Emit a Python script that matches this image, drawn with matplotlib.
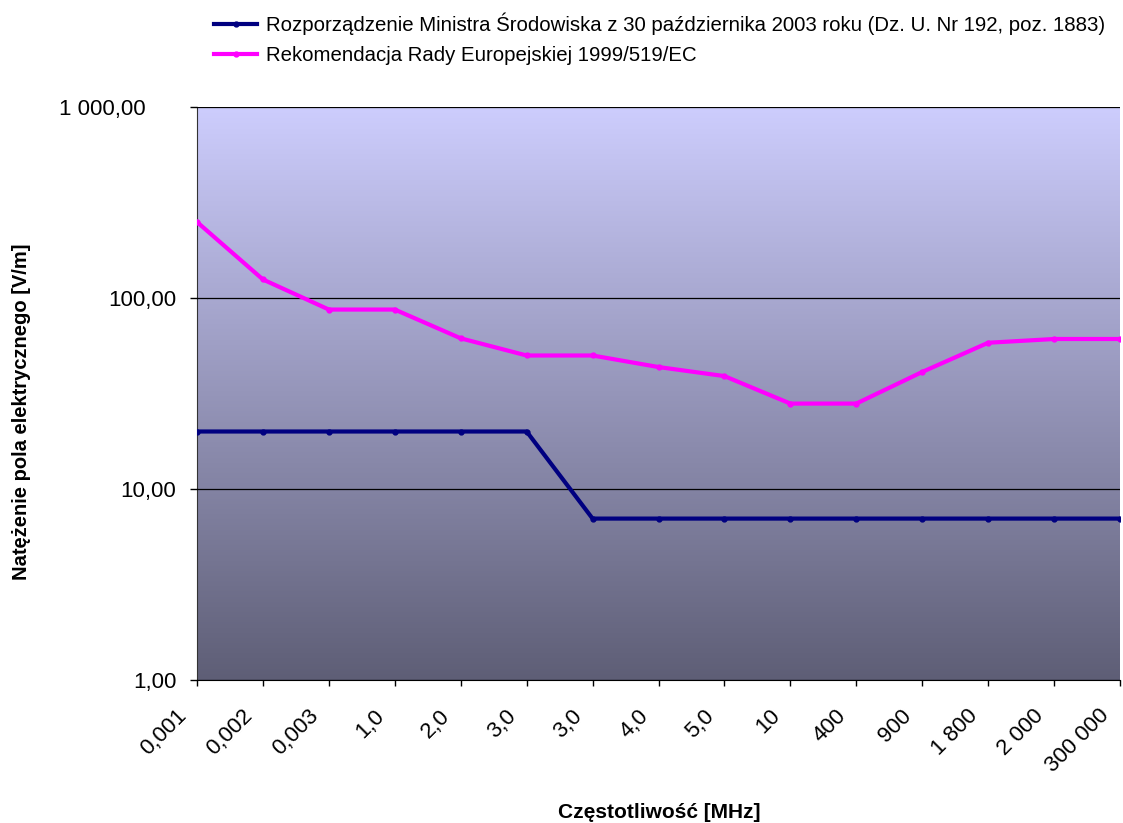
import numpy as np
import matplotlib
matplotlib.use('Agg')
from matplotlib import pyplot as plt
from matplotlib.colors import LinearSegmentedColormap
from matplotlib.ticker import FixedLocator, NullLocator
from matplotlib.transforms import ScaledTranslation

plt.rcParams['font.family'] = ['Liberation Sans', 'DejaVu Sans']

czestotliwosc = ['0,001', '0,002', '0,003', '1,0', '2,0', '3,0', '3,0', '4,0', '5,0',
                 '10', '400', '900', '1 800', '2 000', '300 000']
rozporzadzenie = [20, 20, 20, 20, 20, 20, 7, 7, 7, 7, 7, 7, 7, 7, 7]
rekomendacja = [250, 125, 87, 87, 61.5, 50, 50, 43.5, 39, 28, 28, 41, 58.3, 61, 61]
y_ticks = [1, 10, 100, 1000]
y_labels = ['1,00', '10,00', '100,00', '1 000,00']

name1 = 'Rozporządzenie Ministra Środowiska z 30 października 2003 roku (Dz. U. Nr 192, poz. 1883)'
name2 = 'Rekomendacja Rady Europejskiej 1999/519/EC'

fig = plt.figure(figsize=(11.23, 8.23), dpi=100)
ax = fig.add_axes([197/1123, 1-680/823, 923/1123, 573/823])

x = np.arange(len(czestotliwosc))

# gradient background
cmap = LinearSegmentedColormap.from_list('bg', ['#5e5e76', '#cdcdfd'])
grad = np.linspace(0, 1, 256).reshape(-1, 1)
ax.imshow(grad, cmap=cmap, aspect='auto', extent=[0, 1, 0, 1],
          transform=ax.transAxes, origin='lower', zorder=0)

ax.plot(x, rozporzadzenie, color='#000080', lw=3, marker='o', ms=3.5,
        label=name1, zorder=3, solid_joinstyle='round')
ax.plot(x, rekomendacja, color='#ff00ff', lw=3, marker='o', ms=3.5,
        label=name2, zorder=3, solid_joinstyle='round')

ax.set_yscale('log')
ax.set_ylim(1, 1000)
ax.set_xlim(0, len(czestotliwosc) - 1)
ax.yaxis.set_major_locator(FixedLocator(y_ticks))
ax.yaxis.set_minor_locator(NullLocator())
ax.set_yticklabels(y_labels, fontsize=16)
ax.grid(axis='y', color='black', lw=0.9, zorder=1)
ax.set_axisbelow(False)

ax.set_xticks(x)
ax.set_xticklabels(czestotliwosc, rotation=45, ha='right', va='top',
                   rotation_mode='anchor', fontsize=16)
ax.tick_params(axis='y', length=5, width=1, direction='out', pad=10)
ax.tick_params(axis='x', length=4.5, width=1, direction='out', pad=13.7)

# excel-like label placement
for lab in ax.get_xticklabels():
    lab.set_transform(lab.get_transform() + ScaledTranslation(-21/100, 0, fig.dpi_scale_trans))
top_lab = ax.get_yticklabels()[-1]
top_lab.set_transform(top_lab.get_transform() + ScaledTranslation(-31/100, 0, fig.dpi_scale_trans))

for s in ['top', 'right']:
    ax.spines[s].set_visible(False)
ax.spines['left'].set_color('#333333')
ax.spines['bottom'].set_color('black')

ax.set_ylabel('Natężenie pola elektrycznego [V/m]', fontsize=14.5, fontweight='bold')
ax.yaxis.set_label_coords(22/1123, 0.5, transform=fig.transFigure)
ax.set_xlabel('Częstotliwość [MHz]', fontsize=15, fontweight='bold')
ax.xaxis.set_label_coords((557+762)/2/1123, 1-812/823, transform=fig.transFigure)
ax.xaxis.label.set_va('center')
ax.yaxis.label.set_va('center')

fig.legend(loc='upper left', bbox_to_anchor=(196/1123, 1 + 6/823), frameon=False,
           fontsize=14.7, handlelength=2.1, handletextpad=0.45, labelspacing=0.55)

fig.savefig('out.png', dpi=100)
